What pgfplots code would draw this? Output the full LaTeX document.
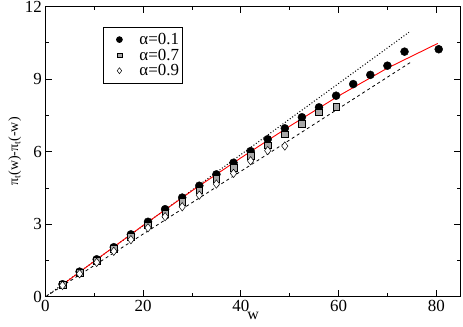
\documentclass[border=0pt]{standalone}
\usepackage{pgfplots}
\pgfplotsset{compat=1.18}
\usepackage{fontspec}
\setmainfont{Liberation Serif}
\definecolor{sqgray}{HTML}{A8A8A8}

\begin{document}
\begin{tikzpicture}
\begin{axis}[
    name=ax,
    scale only axis,
    width=415.3bp, height=290.4bp,
    xmin=0, xmax=85, ymin=0, ymax=12,
    xtick={0,20,...,80}, ytick={0,3,...,12},
    minor x tick num=1, minor y tick num=1,
    tick align=inside,
    major tick length=7bp, minor tick length=3.5bp,
    axis line style={line width=0.8bp},
    every tick/.style={black, line width=0.8bp},
    /pgf/number format/assume math mode=true,
    tick label style={font=\fontsize{17}{19}\selectfont},
    xlabel={w},
    ylabel={π\textsubscript{t}(w)-π\textsubscript{t}(-w)},
    xlabel style={font=\fontsize{16}{18}\selectfont, yshift=6bp},
    ylabel style={font=\fontsize{14}{16}\selectfont, yshift=-3bp},
    legend image code/.code={
        \path[draw=none, fill=none] (0bp,0bp) -- (33bp,0bp);
        \draw[#1] plot coordinates {(14bp,0bp)};
    },
    legend style={at={(0.139,0.929)}, anchor=north west,
        font=\fontsize{17}{18}\selectfont, draw=black, line width=0.6bp,
        inner xsep=2bp, inner ysep=5.5bp, row sep=2bp, column sep=0bp,
        nodes={inner ysep=0.4bp, inner xsep=1bp},
        cells={anchor=west}},
    legend cell align=left,
]
% alpha = 0.1
\addplot[only marks, mark=*, mark size=4bp, mark options={fill=black, draw=black},
    legend image post style={mark size=3bp}] coordinates {
 (3.5,0.52) (7,1.04) (10.5,1.55) (14,2.05) (17.5,2.58) (21,3.10) (24.5,3.62)
 (28,4.10) (31.5,4.59) (35,5.06) (38.5,5.54) (42,6.02) (45.5,6.51) (49,6.96)
 (52.5,7.42) (56,7.83) (59.5,8.31) (63,8.79) (66.5,9.17) (70,9.55) (73.5,10.13)
 (80.5,10.23)};
% alpha = 0.7
\addplot[only marks, mark=square*, mark size=3.3bp, mark options={fill=sqgray, draw=black, line width=0.5bp},
    legend image post style={mark size=2.4bp}] coordinates {
 (3.5,0.50) (7,1.00) (10.5,1.50) (14,1.98) (17.5,2.48) (21,2.95) (24.5,3.44)
 (28,3.92) (31.5,4.40) (35,4.87) (38.5,5.33) (42,5.82) (45.5,6.27) (49,6.71)
 (52.5,7.14) (56,7.62) (59.5,7.86)};
% alpha = 0.9
\addplot[only marks, mark=diamond*, mark size=4.2bp, mark options={fill=white, draw=black, line width=0.5bp},
    legend image post style={mark size=3bp}] coordinates {
 (3.5,0.47) (7,0.95) (10.5,1.42) (14,1.88) (17.5,2.36) (21,2.85) (24.5,3.31)
 (28,3.72) (31.5,4.20) (35,4.66) (38.5,5.10) (42,5.62) (45.5,6.04) (49,6.23)};
\legend{α=0.1, α=0.7, α=0.9}
% reference lines
\addplot[black, dotted, line width=1bp, forget plot] coordinates {(0,0) (74.4,10.93)};
\addplot[black, dashed, line width=0.8bp, forget plot] coordinates {(0,0) (74.9,9.71)};
\addplot[red, line width=0.9bp, forget plot] coordinates {
 (3.5,0.50) (10,1.47) (20,2.95) (30,4.38) (40,5.74) (50,7.05) (60,8.30) (70,9.45) (80.3,10.47)};
\end{axis}
\pgfresetboundingbox
\useasboundingbox ([shift={(-45.4bp,-30.2bp)}]ax.south west) rectangle ([shift={(2.3bp,6.4bp)}]ax.north east);
\end{tikzpicture}
\end{document}
